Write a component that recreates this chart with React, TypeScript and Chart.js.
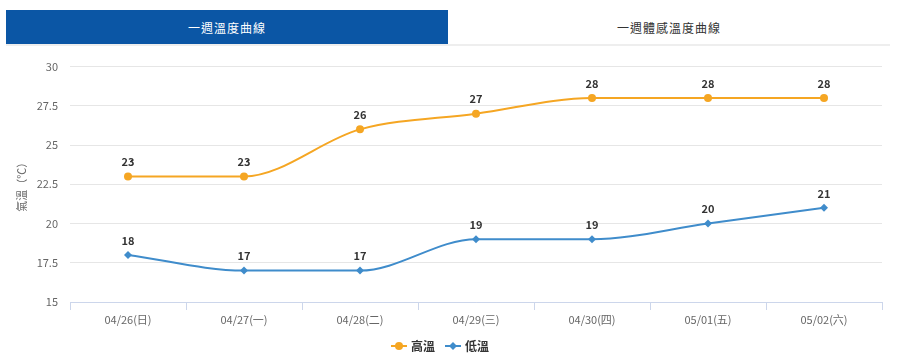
import React, { useEffect, useRef } from "react";
import { Chart, registerables } from "chart.js";

Chart.register(...registerables);

const categories = ["04/26(日)", "04/27(一)", "04/28(二)", "04/29(三)", "04/30(四)", "05/01(五)", "05/02(六)"];
const highTemps = [23, 23, 26, 27, 28, 28, 28];
const lowTemps = [18, 17, 17, 19, 19, 20, 21];
const seriesNames = ["高溫", "低溫"];
const tabLabels = ["一週溫度曲線", "一週體感溫度曲線"];
const yAxisTitle = "氣溫（℃）";

const HIGH_COLOR = "#f5a623";
const LOW_COLOR = "#3f8ccb";
const FONT = "'Noto Sans CJK TC', 'Noto Sans', sans-serif";

function legendIcon(color: string, shape: "circle" | "diamond") {
  const c = document.createElement("canvas");
  c.width = 18;
  c.height = 10;
  const ctx = c.getContext("2d")!;
  ctx.strokeStyle = color;
  ctx.lineWidth = 2;
  ctx.beginPath();
  ctx.moveTo(1, 5);
  ctx.lineTo(17, 5);
  ctx.stroke();
  ctx.fillStyle = color;
  ctx.beginPath();
  if (shape === "circle") {
    ctx.arc(9, 5, 4, 0, Math.PI * 2);
  } else {
    ctx.moveTo(9, 1);
    ctx.lineTo(13, 5);
    ctx.lineTo(9, 9);
    ctx.lineTo(5, 5);
    ctx.closePath();
  }
  ctx.fill();
  return c;
}

const dataLabelPlugin = {
  id: "dataLabels",
  afterDatasetsDraw(chart: any) {
    const ctx = chart.ctx;
    ctx.save();
    ctx.font = `bold 11px ${FONT}`;
    ctx.fillStyle = "#333333";
    ctx.textAlign = "center";
    ctx.textBaseline = "bottom";
    chart.data.datasets.forEach((ds: any, i: number) => {
      const meta = chart.getDatasetMeta(i);
      meta.data.forEach((pt: any, j: number) => {
        ctx.fillText(String(ds.data[j]), pt.x, pt.y - 9);
      });
    });
    ctx.restore();
  },
};

function TempChart() {
  const ref = useRef<HTMLCanvasElement | null>(null);
  useEffect(() => {
    if (!ref.current) return;
    const icons = [legendIcon(HIGH_COLOR, "circle"), legendIcon(LOW_COLOR, "diamond")];
    const chart = new Chart(ref.current, {
      type: "line",
      data: {
        labels: categories,
        datasets: [
          {
            label: seriesNames[0],
            data: highTemps,
            borderColor: HIGH_COLOR,
            backgroundColor: HIGH_COLOR,
            borderWidth: 2,
            pointStyle: "circle",
            pointRadius: 4,
            pointBorderWidth: 0,
            cubicInterpolationMode: "monotone",
          },
          {
            label: seriesNames[1],
            data: lowTemps,
            borderColor: LOW_COLOR,
            backgroundColor: LOW_COLOR,
            borderWidth: 2,
            pointStyle: "rectRot",
            pointRadius: 4,
            pointBorderWidth: 0,
            cubicInterpolationMode: "monotone",
          },
        ],
      },
      options: {
        animation: false,
        responsive: true,
        maintainAspectRatio: false,
        layout: { padding: { top: 14, right: 18, left: 0, bottom: 0 } },
        plugins: {
          tooltip: { enabled: false },
          legend: {
            position: "bottom",
            labels: {
              usePointStyle: true,
              padding: 12,
              color: "#333333",
              font: { family: FONT, size: 12, weight: "bold" },
              generateLabels: (ch: any) =>
                ch.data.datasets.map((ds: any, i: number) => ({
                  text: ds.label,
                  fillStyle: ds.borderColor,
                  strokeStyle: ds.borderColor,
                  fontColor: "#333333",
                  pointStyle: icons[i],
                  datasetIndex: i,
                  hidden: false,
                  lineWidth: 0,
                })),
            },
          },
        },
        scales: {
          x: {
            offset: true,
            grid: {
              offset: true,
              drawOnChartArea: false,
              drawTicks: true,
              tickLength: 8,
              color: "#ccd6eb",
            },
            border: { display: true, color: "#ccd6eb", width: 1 },
            ticks: {
              color: "#666666",
              padding: 3,
              maxRotation: 0,
              font: { family: FONT, size: 11 },
            },
            afterFit: (s: any) => {
              s.height = 26;
            },
          },
          y: {
            min: 15,
            max: 30,
            ticks: {
              stepSize: 2.5,
              color: "#666666",
              padding: 12,
              font: { family: FONT, size: 11 },
            },
            grid: { color: "#e6e6e6", drawTicks: false },
            border: { display: false },
            title: {
              display: true,
              text: yAxisTitle,
              color: "#666666",
              font: { family: FONT, size: 11 },
              padding: { top: 15, bottom: 0 },
            },
            afterFit: (s: any) => {
              s.width = 70;
            },
          },
        },
      },
      plugins: [dataLabelPlugin],
    } as any);
    return () => chart.destroy();
  }, []);
  return <canvas ref={ref} />;
}

export default function App() {
  return (
    <div style={{ position: "absolute", left: 0, top: 0, width: 900, height: 362, background: "#fff", fontFamily: FONT }}>
      <div style={{ position: "absolute", left: 6, top: 10, width: 884, height: 36, display: "flex", borderBottom: "2px solid #eeeeee", boxSizing: "border-box" }}>
        <div style={{ width: 442, height: 34, background: "#0b56a5", color: "#ffffff", fontSize: 12, display: "flex", alignItems: "center", justifyContent: "center", letterSpacing: 1 }}>
          {tabLabels[0]}
        </div>
        <div style={{ width: 442, height: 34, color: "#333333", fontSize: 12, display: "flex", alignItems: "center", justifyContent: "center", letterSpacing: 1 }}>
          {tabLabels[1]}
        </div>
      </div>
      <div style={{ position: "absolute", left: 0, top: 48, width: 900, height: 314 }}>
        <TempChart />
      </div>
    </div>
  );
}
